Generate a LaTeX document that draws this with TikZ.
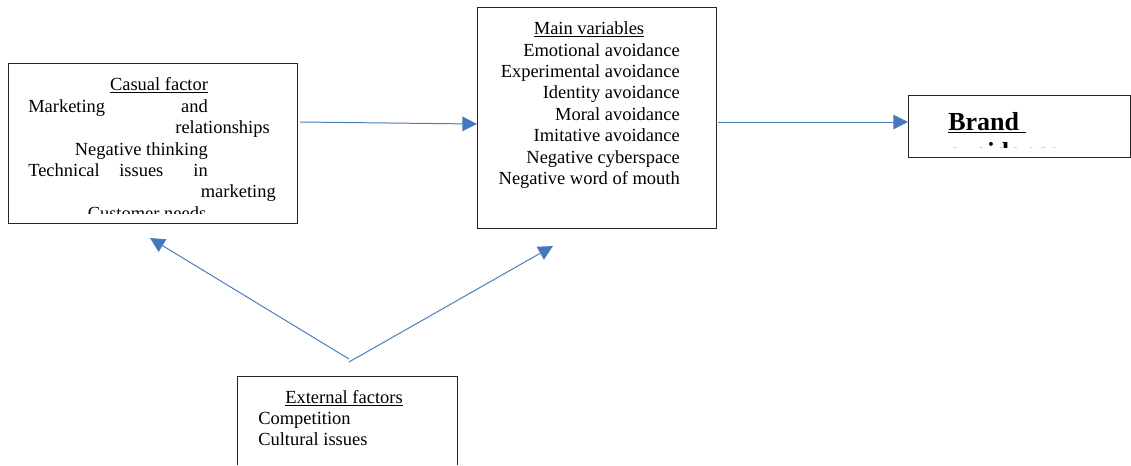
\documentclass[tikz,border=0pt]{standalone}
\usepackage{fontspec}
\setmainfont{Liberation Serif}
\usetikzlibrary{arrows.meta}
\definecolor{arrblue}{HTML}{4A7EBB}
\definecolor{headblue}{HTML}{4677BE}
\tikzset{
  box/.style={draw=black!85, line width=0.75pt},
  conn/.style={draw=arrblue, line width=0.75pt, -{Triangle[length=11pt,width=11pt,fill=headblue]}},
  txt/.style={inner sep=0pt, font=\fontsize{13.85}{16}\selectfont},
  btxt/.style={inner sep=0pt, font=\fontsize{19.5}{22}\selectfont\bfseries},
}
\begin{document}
\begin{tikzpicture}[x=0.75pt,y=-0.75pt]
\useasboundingbox (0,0) rectangle (1131,465);
% boxes
\draw[box] (8,63) rectangle (297,223);
\coordinate (casS) at (150,238);
\draw[box] (477,7) rectangle (716,228);
\coordinate (mainW) at (477,124);
\coordinate (mainS) at (553,246);
\draw[box] (908,95) rectangle (1130,157);
\coordinate (brandW) at (908,122);
\draw[box] (237,465) -- (237,376) -- (457,376) -- (457,465);
\coordinate (extL) at (349,359);
\coordinate (extR) at (349,362);
\coordinate (casOut) at (300,122);
\coordinate (mainOut) at (718,122);
% casual text
\begin{scope}
\clip (9,64) rectangle (296,213);
\node[txt, anchor=base] (c0) at (159,90) {\underline{Casual factor}};
\node[txt, anchor=base west] (c1a) at (28,112) {Marketing};
\node[txt, anchor=base east] (c1b) at (208,112) {and};
\node[txt, anchor=base east] (c2) at (270,133) {relationships};
\node[txt, anchor=base east] (c3) at (208,155) {Negative thinking};
\node[txt, anchor=base west] (c4a) at (28,176) {Technical};
\node[txt, anchor=base west] (c4b) at (119,176) {issues};
\node[txt, anchor=base east] (c4c) at (208,176) {in};
\node[txt, anchor=base east] (c5) at (276,197) {marketing};
\node[txt, anchor=base] (c6) at (147,219) {Customer needs};
\end{scope}
% main text
\node[txt, anchor=base] (m0) at (589,34) {\underline{Main variables}};
\node[txt, anchor=base east] (m1) at (680,56) {Emotional avoidance};
\node[txt, anchor=base east] (m2) at (680,77) {Experimental avoidance};
\node[txt, anchor=base east] (m3) at (680,98) {Identity avoidance};
\node[txt, anchor=base east] (m4) at (680,120) {Moral avoidance};
\node[txt, anchor=base east] (m5) at (680,141) {Imitative avoidance};
\node[txt, anchor=base east] (m6) at (680,163) {Negative cyberspace};
\node[txt, anchor=base east] (m7) at (680,184) {Negative word of mouth};
% brand text
\begin{scope}
\clip (909,96) rectangle (1129,147.5);
\node[btxt, anchor=base west] (b0) at (948,130) {\underline{Brand\ }};
\node[btxt, anchor=base west] (b1) at (948,160.5) {avoidance};
\end{scope}
% external text
\node[txt, anchor=base] (e0) at (344,403) {\underline{External factors}};
\node[txt, anchor=base west] (e1) at (258,424) {Competition};
\node[txt, anchor=base west] (e2) at (258,445) {Cultural issues};
% connectors
\draw[conn] (casOut) -- (mainW);
\draw[conn] (mainOut) -- (brandW);
\draw[conn] (extL) -- (casS);
\draw[conn] (extR) -- (mainS);
\end{tikzpicture}
\end{document}
